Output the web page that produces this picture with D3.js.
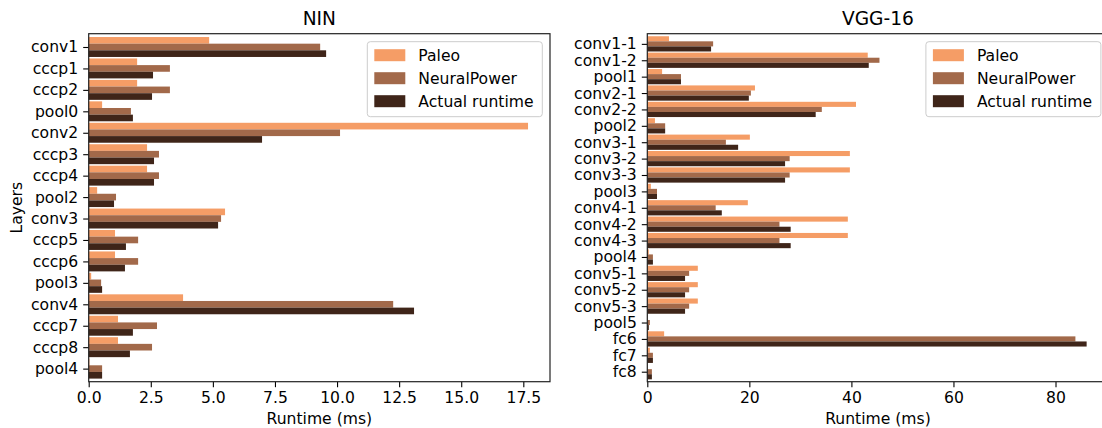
<!DOCTYPE html>
<html>
<head>
<meta charset="utf-8">
<script src="https://cdn.jsdelivr.net/npm/d3@7"></script>
<style>
  body { margin: 0; background: #fff; }
  svg { display: block; font-family: "DejaVu Sans", sans-serif; }
</style>
</head>
<body>
<svg id="chart" width="1102" height="428"></svg>
<script>
// NIN layers
const ninLayers = ['conv1', 'cccp1', 'cccp2', 'pool0', 'conv2', 'cccp3', 'cccp4', 'pool2',
    'conv3', 'cccp5', 'cccp6', 'pool3', 'conv4', 'cccp7', 'cccp8', 'pool4'];
const ninPaleo = [4.85, 1.95, 1.95, 0.54, 17.69, 2.35, 2.35, 0.34, 5.49, 1.06, 1.06, 0.1, 3.80, 1.18, 1.18, 0.03];
const ninNeuralPower = [9.32, 3.27, 3.27, 1.70, 10.12, 2.83, 2.83, 1.10, 5.33, 1.99, 1.99, 0.50, 12.26, 2.75, 2.55, 0.54];
const ninActual = [9.56, 2.59, 2.55, 1.78, 6.98, 2.63, 2.63, 1.02, 5.21, 1.50, 1.46, 0.54, 13.10, 1.78, 1.66, 0.54];
const ninTicks = [0, 2.5, 5, 7.5, 10, 12.5, 15, 17.5];

// VGG-16 layers
const vggLayers = ['conv1-1', 'conv1-2', 'pool1', 'conv2-1', 'conv2-2', 'pool2', 'conv3-1', 'conv3-2',
    'conv3-3', 'pool3', 'conv4-1', 'conv4-2', 'conv4-3', 'pool4', 'conv5-1', 'conv5-2', 'conv5-3',
    'pool5', 'fc6', 'fc7', 'fc8'];
const vggPaleo = [4.25, 43.2, 2.9, 21.1, 40.9, 1.5, 20.1, 39.7, 39.7, 0.7, 19.7, 39.3, 39.3, 0.3, 9.9, 9.9, 9.9, 0.05, 3.3, 0.5, 0.05];
const vggNeuralPower = [12.9, 45.5, 6.6, 20.3, 34.2, 3.5, 15.4, 27.9, 27.9, 1.9, 13.4, 25.9, 25.9, 1.1, 8.2, 8.2, 8.2, 0.5, 83.9, 1.1, 0.9];
const vggActual = [12.5, 43.4, 6.6, 19.9, 33.0, 3.5, 17.8, 27.0, 27.0, 1.9, 14.6, 28.1, 28.1, 1.1, 7.4, 7.4, 7.4, 0.3, 86.1, 1.1, 0.9];
const vggTicks = [0, 20, 40, 60, 80];

const seriesNames = ['Paleo', 'NeuralPower', 'Actual runtime'];
const seriesColors = ['#f59d66', '#a2694a', '#3f2519'];

const svg = d3.select('#chart');
const fontSize = 15.6;
const barH = 0.31;   // bar height in category units

function drawPanel(opts) {
    const { left, right, top, bottom, layers, series, ticks, tickFmt, title, yLabel } = opts;
    const g = svg.append('g');

    const allVals = series.flat();
    const x = d3.scaleLinear()
        .domain([0, d3.max(allVals) * 1.05])
        .range([left, right]);
    const y = d3.scaleLinear()
        .domain([-0.62, layers.length - 0.39])
        .range([top, bottom]);

    // bars, one group per series, offset around the category centre
    series.forEach((vals, si) => {
        g.append('g').selectAll('rect')
            .data(vals)
            .enter()
            .append('rect')
            .attr('x', x(0))
            .attr('y', (d, i) => y(i + (si - 1) * barH - barH / 2))
            .attr('width', d => x(d) - x(0))
            .attr('height', y(barH) - y(0))
            .attr('fill', seriesColors[si]);
    });

    // axes
    const xAxis = d3.axisBottom(x)
        .tickValues(ticks)
        .tickFormat(tickFmt)
        .tickSize(5.5)
        .tickPadding(5);
    const yAxis = d3.axisLeft(y)
        .tickValues(d3.range(layers.length))
        .tickFormat(i => layers[i])
        .tickSize(5.5)
        .tickPadding(5);

    const gx = g.append('g')
        .attr('transform', `translate(0,${bottom})`)
        .call(xAxis);
    const gy = g.append('g')
        .attr('transform', `translate(${left},0)`)
        .call(yAxis);

    [gx, gy].forEach(a => {
        a.select('.domain').remove();
        a.selectAll('.tick line').attr('stroke', '#000').attr('stroke-width', 1.1);
        a.selectAll('.tick text')
            .attr('fill', '#000')
            .style('font-size', fontSize + 'px')
            .style('font-family', '"DejaVu Sans", sans-serif');
    });

    // spines
    g.append('rect')
        .attr('x', left)
        .attr('y', top)
        .attr('width', right - left)
        .attr('height', bottom - top)
        .attr('fill', 'none')
        .attr('stroke', '#222')
        .attr('stroke-width', 1.2);

    // title
    g.append('text')
        .attr('x', (left + right) / 2)
        .attr('y', 25)
        .attr('text-anchor', 'middle')
        .style('font-size', '18.6px')
        .text(title);

    // x label
    g.append('text')
        .attr('x', (left + right) / 2)
        .attr('y', 424)
        .attr('text-anchor', 'middle')
        .style('font-size', fontSize + 'px')
        .text('Runtime (ms)');

    if (yLabel) {
        g.append('text')
            .attr('transform', `translate(22,${(top + bottom) / 2}) rotate(-90)`)
            .attr('text-anchor', 'middle')
            .style('font-size', fontSize + 'px')
            .text(yLabel);
    }

    // legend, upper right
    const lgW = 175, lgH = 75;
    const lgX = right - 7.7 - lgW, lgY = top + 8;
    const lg = g.append('g').attr('transform', `translate(${lgX},${lgY})`);
    lg.append('rect')
        .attr('width', lgW)
        .attr('height', lgH)
        .attr('rx', 3)
        .attr('fill', 'rgba(255,255,255,0.8)')
        .attr('stroke', '#cccccc')
        .attr('stroke-width', 1);
    seriesNames.forEach((name, i) => {
        const cy = 13.5 + i * 23;
        lg.append('rect')
            .attr('x', 7)
            .attr('y', cy - 6)
            .attr('width', 31)
            .attr('height', 12)
            .attr('fill', seriesColors[i]);
        lg.append('text')
            .attr('x', 51)
            .attr('y', cy + 5.5)
            .style('font-size', fontSize + 'px')
            .text(name);
    });
}

drawPanel({
    left: 88.7, right: 550, top: 33.7, bottom: 381.7,
    layers: ninLayers,
    series: [ninPaleo, ninNeuralPower, ninActual],
    ticks: ninTicks,
    tickFmt: d3.format('.1f'),
    title: 'NIN',
    yLabel: 'Layers'
});

drawPanel({
    left: 647.3, right: 1108.6, top: 33.7, bottom: 381.7,
    layers: vggLayers,
    series: [vggPaleo, vggNeuralPower, vggActual],
    ticks: vggTicks,
    tickFmt: d3.format('d'),
    title: 'VGG-16'
});
</script>
</body>
</html>
